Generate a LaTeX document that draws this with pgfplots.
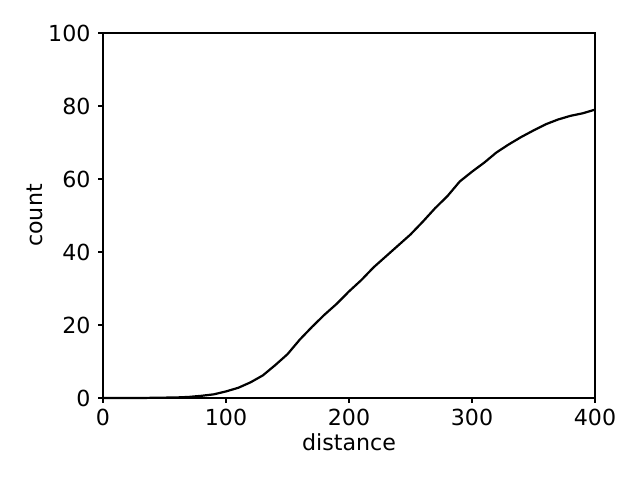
\documentclass[border=0pt]{standalone}
\usepackage{fontspec}
\setmainfont{DejaVu Sans}
\usepackage{pgfplots}
\pgfplotsset{compat=1.18}

\begin{document}
\fontsize{16pt}{19pt}\selectfont
\begin{tikzpicture}
\useasboundingbox (-1.03in,-0.82in) rectangle (5.37in,3.98in);
\begin{axis}[
  at={(0,0)}, anchor=south west,
  scale only axis, width=4.92in, height=3.65in,
  xmin=0, xmax=400, ymin=0, ymax=100,
  xtick={0,100,200,300,400}, ytick={0,20,40,60,80,100},
  xtick pos=bottom, ytick pos=left,
  tick align=outside, major tick length=3.5pt,
  tick style={black, line width=0.8pt},
  axis line style={line width=0.8pt},
  /pgf/number format/assume math mode=true,
  tick label style={font=\fontsize{16pt}{19pt}\selectfont},
  label style={font=\fontsize{16pt}{19pt}\selectfont},
  xticklabel style={yshift=1pt},
  xlabel={distance}, ylabel={count},
  xlabel style={yshift=5.5pt},
  ylabel style={yshift=-7pt},
  clip=false,
]
\addplot[black, line width=1.6pt, mark=none] coordinates {
(0,0) (10,0) (20,0) (30,0) (40,0.05) (50,0.1) (60,0.15) (70,0.3)
(80,0.6) (90,1.0) (100,1.8) (110,2.8) (120,4.3) (130,6.2) (140,9.0)
(150,12.0) (160,16.0) (170,19.5) (180,22.8) (190,25.8) (200,29.2)
(210,32.3) (220,35.8) (230,38.8) (240,41.8) (250,44.8) (260,48.3)
(270,52.0) (280,55.3) (290,59.3) (300,62.0) (310,64.5) (320,67.3)
(330,69.5) (340,71.5) (350,73.3) (360,75.0) (370,76.3) (380,77.3)
(390,78.0) (400,79.0)
};
\end{axis}
\end{tikzpicture}
\end{document}
